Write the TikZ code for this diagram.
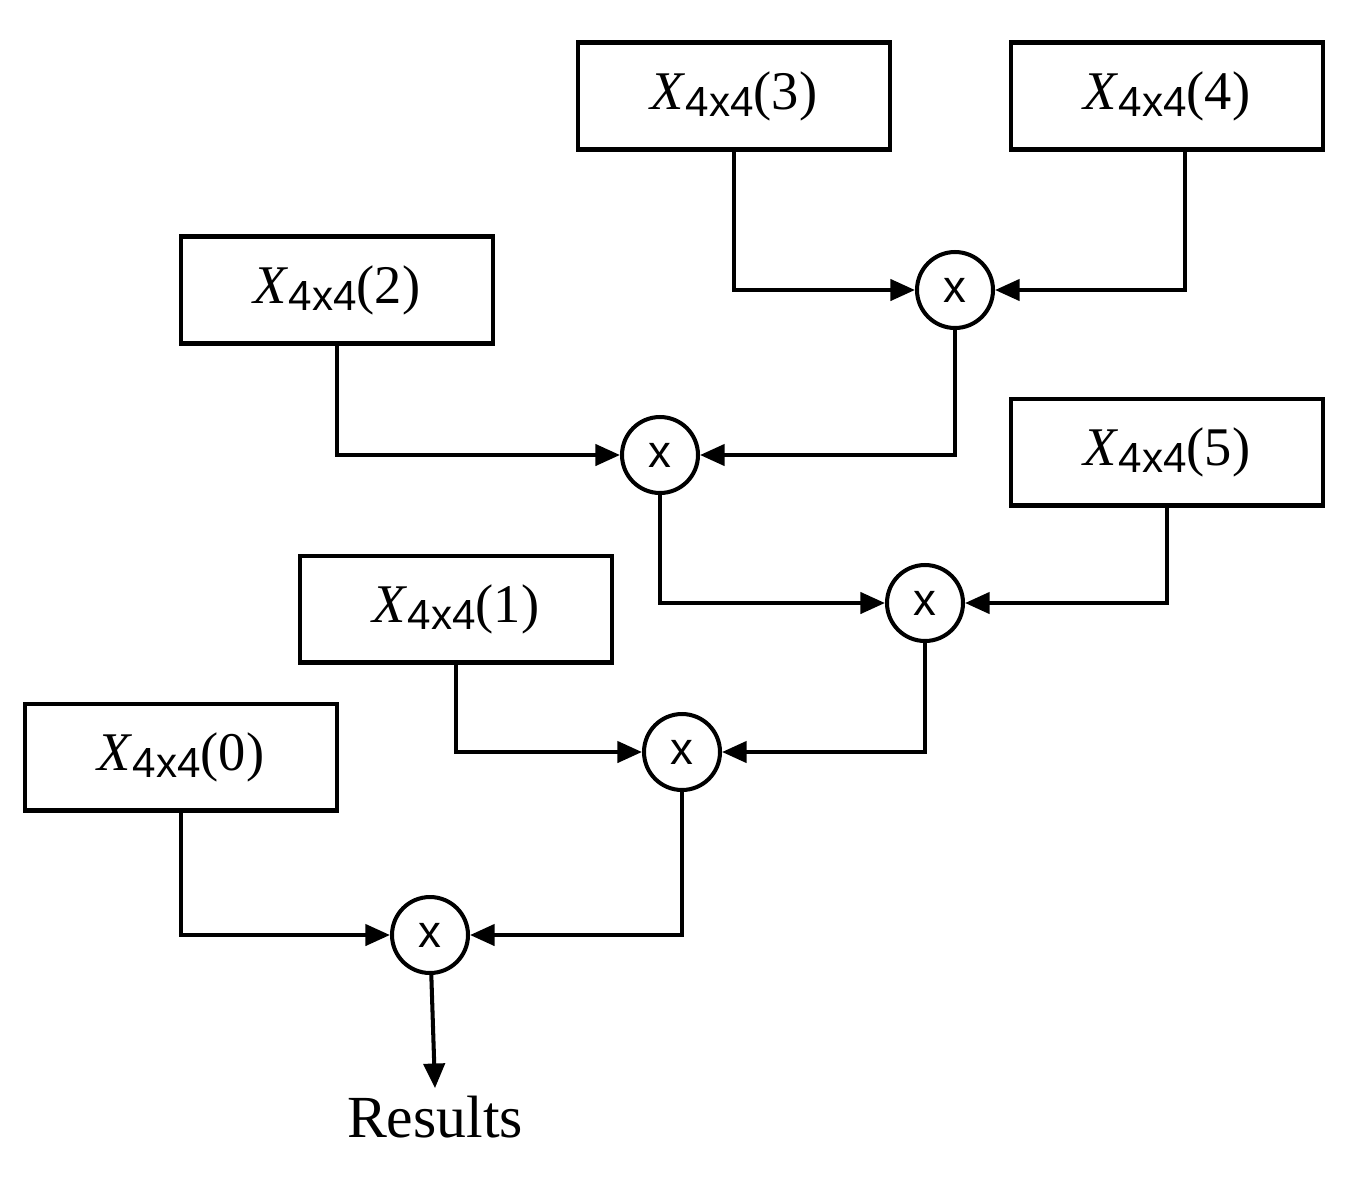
\documentclass[tikz,border=0pt]{standalone}
\usepackage{fontspec}
\setmainfont{Liberation Serif}
\newfontfamily\arialf{Liberation Sans}
\usetikzlibrary{arrows.meta,positioning}
\newcommand{\mat}[1]{\textit{X}\raisebox{-0.3ex}{\fontsize{24}{24}\arialf 4x4}(#1)}
\begin{document}
\begin{tikzpicture}[x=0.02cm, y=-0.02cm, line width=2.3pt,
  >={Triangle[length=14pt,width=12pt]},
  box/.style={draw, minimum width=6.24cm, minimum height=2.14cm, inner sep=0pt, font=\fontsize{31}{31}\selectfont},
  mul/.style={draw, circle, minimum size=1.52cm, inner sep=0pt, font=\fontsize{26}{26}\arialf}]
\useasboundingbox (0,0) rectangle (1358,1177);
\node[box] (x3) at (734,96) {\mat{3}};
\node[box] (x4) at (1167,96) {\mat{4}};
\node[box] (x2) at (337,290) {\mat{2}};
\node[box] (x5) at (1167,452) {\mat{5}};
\node[box] (x1) at (456,609) {\mat{1}};
\node[box] (x0) at (181,757) {\mat{0}};

\node[mul] (m34) at (955,290) {x};
\node[mul] (m2) at (660,455) {x};
\node[mul] (m5) at (925,603) {x};
\node[mul] (m1) at (682,752) {x};
\node[mul] (m0) at (430,935) {x};
\node[font=\fontsize{34}{34}\selectfont] (res) at (435,1117) {Results};

\draw[->] (x3.south) |- (m34);
\draw[->] (x4.south -| 1185,0) |- (m34);
\draw[->] (m34) |- (m2);
\draw[->] (x2) |- (m2);
\draw[->] (m2) |- (m5);
\draw[->] (x5) |- (m5);
\draw[->] (m5) |- (m1);
\draw[->] (x1) |- (m1);
\draw[->] (m1) |- (m0);
\draw[->] (x0) |- (m0);
\draw[->] (m0) -- (res.north);
\end{tikzpicture}
\end{document}
